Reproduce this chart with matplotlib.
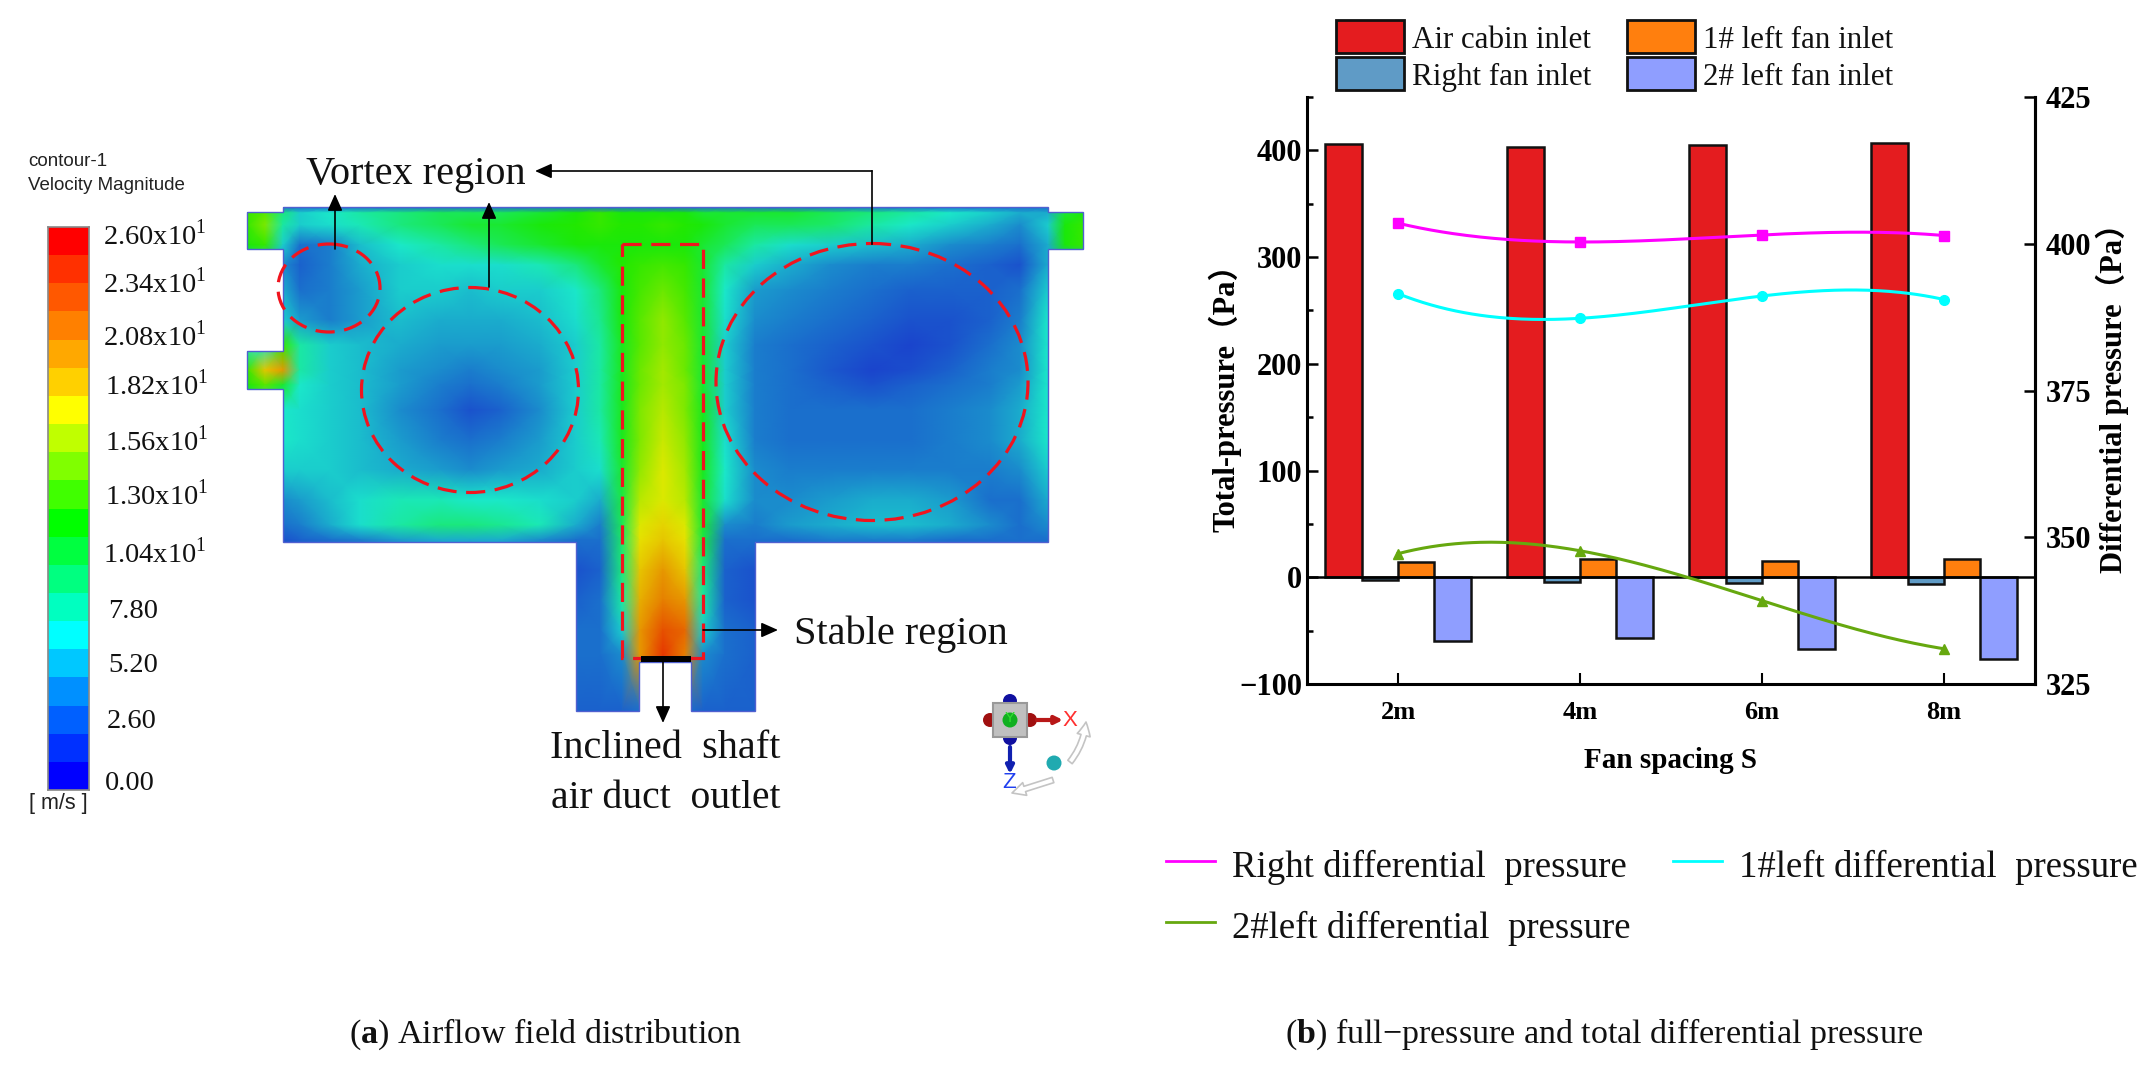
import numpy as np
import matplotlib
matplotlib.use("Agg")
import matplotlib.pyplot as plt
from matplotlib.colors import ListedColormap, LinearSegmentedColormap, BoundaryNorm
from matplotlib.patches import Ellipse, Rectangle, PathPatch, Circle
from matplotlib.path import Path

W, H = 2149, 1065

# ---- panel b data ----
spacing = ["2m", "4m", "6m", "8m"]
air_cabin = [406, 403, 405, 407]
right_fan = [-3, -4, -5, -6.5]
left1_fan = [14.5, 17, 15, 17]
left2_fan = [-60, -57, -67, -76.5]
right_dp = [403.5, 400.3, 401.5, 401.4]
left1_dp = [391.5, 387.3, 391.1, 390.5]
left2_dp = [347.2, 347.7, 339.2, 331.0]
bar_names = ["Air cabin inlet", "Right fan inlet", "1# left fan inlet", "2# left fan inlet"]
bar_colors = ["#e41c1f", "#5f9bc6", "#ff7f0e", "#8f9eff"]
line_names = ["Right differential  pressure", "1#left differential  pressure", "2#left differential  pressure"]
line_colors = ["#ff00ff", "#00ffff", "#66a80f"]

# ---- panel a data: velocity, on picture pixels ----
grid_x = [247, 265, 283, 300, 330, 360, 400, 440, 470, 500, 540, 576, 600, 622, 640,
          663, 685, 703, 725, 755, 790, 830, 872, 910, 950, 990, 1020, 1048, 1065, 1083]
grid_y = [207, 213, 225, 245, 265, 290, 320, 345, 370, 385, 410, 440, 470, 500, 525,
          540, 570, 600, 630, 655, 711]
speed = [
    [3, 3, 3, 3, 3, 3, 3, 3, 3, 3, 3, 3, 3, 3, 3, 3, 3, 3, 3, 3, 3, 3, 3, 3, 3, 3, 3, 3, 3, 3],
    [13, 14, 9, 6, 7, 8, 9, 10, 10, 10, 11, 12, 13, 12, 12, 12, 12, 11, 11, 11, 11, 10, 9, 8, 7, 6, 5, 5, 11, 12],
    [13, 15, 8, 6, 6.5, 7.5, 9, 10, 11, 11, 12, 12.5, 13, 12.5, 12.5, 13, 12.5, 12, 11, 10, 10, 9.5, 8, 7, 6, 5, 4, 6, 12, 13],
    [12, 13, 6, 3, 3.5, 5.5, 7, 8, 9, 10, 11, 12, 12, 12, 12, 12, 12, 11, 10, 8, 6.5, 6, 5.5, 5, 4, 3.5, 3, 5, 12, 13],
    [6, 6, 4, 2.5, 3.5, 5, 6, 6.5, 6.5, 6.5, 7.5, 9, 11, 12.5, 13, 13.5, 13, 11, 8, 6, 5, 4, 3.5, 3.5, 3, 2.5, 2, 5, 5, 5],
    [5, 5, 5, 3, 3.5, 4.5, 6, 6, 5.5, 6, 6, 7, 9, 12, 13.5, 14.5, 13.5, 11, 7, 4.5, 4, 3.5, 3, 2.5, 2.5, 2.5, 3, 6, 6, 6],
    [6, 6, 6, 4.5, 3.5, 4.5, 5.5, 5, 5, 5, 5.5, 6.5, 8.5, 12, 14, 15.5, 14, 11, 6.5, 4, 3.5, 3, 2.5, 2, 2, 2.5, 3.5, 7, 7, 7],
    [7, 7, 13, 8, 6, 5.5, 5, 4.5, 4.5, 4.5, 5, 6, 8, 11.5, 14, 15.5, 14.5, 11, 6, 3.5, 3, 2.5, 2, 1.5, 2, 3, 4, 7, 7, 7],
    [13, 19, 21, 8, 6, 5.5, 4.5, 4, 3.5, 4, 4.5, 6, 8, 11.5, 14.5, 16, 14.5, 11, 6, 3.5, 3, 2.2, 1.5, 1.8, 2.5, 3.5, 4, 7, 7, 7],
    [12, 14, 11, 7, 6, 5.5, 4.5, 3.5, 3, 3.5, 4.5, 6, 8, 11.5, 14.5, 16, 15, 11, 6, 3.5, 3, 2.5, 2, 2.5, 3, 3.5, 4.5, 7, 7, 7],
    [6, 6, 7, 6.5, 6, 5.5, 4, 3, 2, 2.5, 4, 6, 8, 11.5, 15, 16.5, 15, 11.5, 6, 3.5, 3, 3, 3, 3, 3.5, 4, 5, 7, 7, 7],
    [6, 6, 7, 6.5, 6, 5.5, 4.5, 3.5, 3, 3.5, 4.5, 6, 7.5, 11.5, 15, 17, 15.5, 11.5, 6.5, 3.5, 3, 3, 3, 3, 3.5, 4, 5, 7, 7, 7],
    [5, 5, 6, 6, 6, 5.5, 5, 4.5, 4, 4.5, 5, 6, 6.5, 11, 15.5, 17.5, 16, 11.5, 7, 4, 3.5, 3.5, 3.5, 3.5, 3.5, 3.5, 4, 6, 6, 6],
    [4, 4, 4, 4.5, 5.5, 6.5, 7.5, 7.5, 7, 7, 6.5, 6, 5, 10.5, 16.5, 17.5, 16.5, 11, 6.5, 4, 4, 4.5, 5, 5, 4.5, 3, 3, 5, 5, 5],
    [3, 3, 3, 3.5, 5, 6.5, 8, 9, 9, 8.5, 7.5, 5, 3.5, 10, 17.5, 18.5, 17.5, 11, 4, 3.5, 4.5, 5, 5.5, 5.5, 5, 4, 3, 4, 4, 4],
    [2, 2, 2, 2.5, 3, 3.5, 4.5, 5, 5, 5, 4, 3, 3, 9.5, 18, 19, 18, 10.5, 3, 3, 3, 3.5, 3.5, 3.5, 3, 3, 3, 3, 3, 3],
    [2, 2, 2, 2, 2, 2, 2, 2, 2, 2, 2, 2, 2.5, 9, 19, 21, 19, 9, 2.5, 2, 2, 2, 2, 2, 2, 2, 2, 2, 2, 2],
    [2, 2, 2, 2, 2, 2, 2, 2, 2, 2, 2, 2.5, 3, 8, 20, 22, 21, 8, 2.5, 2, 2, 2, 2, 2, 2, 2, 2, 2, 2, 2],
    [2, 2, 2, 2, 2, 2, 2, 2, 2, 2, 2, 3, 3, 6, 21, 24, 23, 6, 3, 2.5, 2, 2, 2, 2, 2, 2, 2, 2, 2, 2],
    [2, 2, 2, 2, 2, 2, 2, 2, 2, 2, 2, 3, 3, 4, 21, 25, 22, 4, 3, 2.5, 2, 2, 2, 2, 2, 2, 2, 2, 2, 2],
    [2.5, 2.5, 2.5, 2.5, 2.5, 2.5, 2.5, 2.5, 2.5, 2.5, 2.5, 2.5, 2.5, 2.5, 3, 3, 3, 2.5, 2.5, 2.5, 2.5, 2.5, 2.5, 2.5, 2.5, 2.5, 2.5, 2.5, 2.5, 2.5],
]
band_colors = ["#0000ff", "#0030ff", "#0060ff", "#0090ff", "#00c8ff", "#00ffff", "#00ffc0", "#00ff80",
               "#00ff40", "#00ff00", "#40ff00", "#80ff00", "#c0ff00", "#ffff00", "#ffd000", "#ffa800",
               "#ff8000", "#ff5800", "#ff3000", "#ff0000"]
bar_labels = [(235, 103, "2.60x10$^{1}$"), (283, 103, "2.34x10$^{1}$"), (336, 103, "2.08x10$^{1}$"),
              (385, 105, "1.82x10$^{1}$"), (441, 105, "1.56x10$^{1}$"), (495, 105, "1.30x10$^{1}$"),
              (553, 103, "1.04x10$^{1}$"), (612, 108, "7.80"), (665, 108, "5.20"),
              (722, 107, "2.60"), (784, 105, "0.00")]

plt.rcParams["font.family"] = ["Liberation Serif", "DejaVu Serif"]
plt.rcParams["mathtext.fontset"] = "custom"
plt.rcParams["mathtext.rm"] = "Liberation Serif"
plt.rcParams["mathtext.bf"] = "Liberation Serif:bold"

fig = plt.figure(figsize=(W / 100, H / 100), dpi=100)


def px_axes(left, top, right, bottom):
    return fig.add_axes([left / W, 1 - bottom / H, (right - left) / W, (bottom - top) / H])


# overlay in picture pixels, for the sketch of panel a
ov = fig.add_axes([0, 0, 1, 1], zorder=1)
ov.set_xlim(0, W)
ov.set_ylim(H, 0)
ov.axis("off")

# field, clipped to the duct outline
outline = [(283, 207), (1048, 207), (1048, 212), (1083, 212), (1083, 249), (1048, 249), (1048, 542),
           (755, 542), (755, 711), (691, 711), (691, 662), (639, 662), (639, 711), (576, 711), (576, 542),
           (283, 542), (283, 389), (247, 389), (247, 351), (283, 351), (283, 249), (247, 249), (247, 212),
           (283, 212), (283, 207)]
shaded = [tuple(0.80 * np.array(matplotlib.colors.to_rgb(c)) + np.array([0.10, 0.11, 0.0])) for c in band_colors]
field_cmap = LinearSegmentedColormap.from_list("field", shaded)
mesh = ov.pcolormesh(grid_x, grid_y, np.array(speed), shading="gouraud", cmap=field_cmap, vmin=0, vmax=26)
clip = PathPatch(Path(outline, closed=True), transform=ov.transData, fc="none", ec="#5060d0", lw=1, zorder=3)
ov.add_patch(clip)
mesh.set_clip_path(clip)

# dashed red marks
red = "#f0141e"
dash = (0, (6, 3))
for cx, cy, w, h in [(329, 288, 102, 88), (470, 390, 217, 205), (872, 382, 312, 277)]:
    ov.add_patch(Ellipse((cx, cy), w, h, fc="none", ec=red, lw=2.3, ls=dash, zorder=4))
ov.add_patch(Rectangle((622, 244), 81, 414, fc="none", ec=red, lw=2.3, ls=dash, zorder=4))
ov.add_patch(Rectangle((641, 656), 50, 6, fc="black", ec="none", zorder=5))

# arrows and notes
arrow = dict(arrowstyle="-|>,head_width=0.32,head_length=0.72", color="black", lw=1.2, shrinkA=0, shrinkB=0, mutation_scale=14)
ov.annotate("", xy=(335, 194), xytext=(335, 249), arrowprops=arrow, zorder=6)
ov.annotate("", xy=(489, 202), xytext=(489, 287), arrowprops=arrow, zorder=6)
ov.plot([872, 872], [244, 171], color="black", lw=1.2, zorder=6)
ov.annotate("", xy=(535, 171), xytext=(872, 171), arrowprops=arrow, zorder=6)
ov.annotate("", xy=(778, 630), xytext=(703, 630), arrowprops=arrow, zorder=6)
ov.annotate("", xy=(663, 723), xytext=(663, 662), arrowprops=arrow, zorder=6)
note = dict(fontsize=29, color="#111111", va="baseline", ha="left")
ov.text(306, 184, "Vortex region", **note)
ov.text(794, 644, "Stable region", **note)
ov.text(550, 758, "Inclined  shaft", **note)
ov.text(551, 808, "air duct  outlet", fontsize=28.5, color="#111111", va="baseline", ha="left")

# colour bar
cax = px_axes(48, 227, 89, 790)
edges = np.linspace(0, 26, 21)
cax.pcolormesh([0, 1], edges, np.array(edges[:-1]).reshape(-1, 1) + 0.65,
               cmap=ListedColormap(band_colors), norm=BoundaryNorm(edges, 20))
cax.set_xticks([])
cax.set_yticks([])
for s in cax.spines.values():
    s.set_color("#888888")
    s.set_linewidth(1.2)
for y, x, txt in bar_labels:
    ov.text(x, y, txt, fontsize=20.5, color="#111111", va="center", ha="left")
ov.text(28, 162, "contour-1", family="Liberation Sans", fontsize=13.5, color="#222222", va="center")
ov.text(28, 185, "Velocity Magnitude", family="Liberation Sans", fontsize=13.5, color="#222222", va="center")
ov.text(29, 803, "[ m/s ]", family="Liberation Sans", fontsize=15.5, color="#222222", va="center")

# orientation icon
for c, px, py in [("#1010a0", 1010, 701), ("#1010a0", 1010, 738), ("#a01010", 990, 720), ("#a01010", 1030, 720)]:
    ov.add_patch(Circle((px, py), 7, fc=c, ec="none", zorder=4))
ov.add_patch(Rectangle((993, 703), 34, 34, fc="#c0c0c0", ec="#999999", lw=1.5, zorder=5))
ov.add_patch(Circle((1010, 720), 7.5, fc="#10b020", ec="none", zorder=6))
ov.text(1010, 718, "Y", family="Liberation Sans", fontsize=11, color="#30e030", ha="center", va="center", zorder=7)
ov.annotate("", xy=(1063, 720), xytext=(1037, 720), arrowprops=dict(arrowstyle="-|>", color="#b81818", lw=3, mutation_scale=11, shrinkA=0, shrinkB=0), zorder=6)
ov.annotate("", xy=(1010, 774), xytext=(1010, 747), arrowprops=dict(arrowstyle="-|>", color="#1020b0", lw=3, mutation_scale=11, shrinkA=0, shrinkB=0), zorder=6)
ov.text(1070, 720, "X", family="Liberation Sans", fontsize=16, color="#ff3030", ha="center", va="center")
ov.text(1009, 782, "Z", family="Liberation Sans", fontsize=16, color="#2040f0", ha="center", va="center")
ov.add_patch(Circle((1054, 763), 7.5, fc="#20aab0", ec="none", zorder=6))
hollow = dict(arrowstyle="simple,tail_width=0.25,head_width=0.6,head_length=0.6", fc="white", ec="#c4c4c4", lw=1.2, mutation_scale=16, shrinkA=0, shrinkB=0)
ov.annotate("", xy=(1086, 722), xytext=(1070, 762), arrowprops=dict(connectionstyle="arc3,rad=0.15", **hollow))
ov.annotate("", xy=(1012, 793), xytext=(1053, 780), arrowprops=dict(**hollow))

# ---- panel b ----
ax = px_axes(1307, 97, 2035, 684)
ax.patch.set_alpha(0)
ax.set_zorder(2)
x = np.arange(len(spacing))
for off, vals, col, name in zip([-0.3, -0.1, 0.1, 0.3], [air_cabin, right_fan, left1_fan, left2_fan], bar_colors, bar_names):
    ax.bar(x + off, vals, 0.2, color=col, edgecolor="#111111", linewidth=1.8, label=name, zorder=2)
ax.axhline(0, color="black", lw=1.8, zorder=3)
ax.set_xlim(-0.5, 3.5)
ax.set_ylim(-100, 450)
ax.set_xticks(x)
ax.set_xticklabels(spacing, fontsize=19, fontweight="bold")
ax.set_yticks([-100, 0, 100, 200, 300, 400])
ax.set_yticks([-50, 50, 150, 250, 350, 450], minor=True)
ax.tick_params(axis="y", which="major", direction="in", length=8, width=1.8, labelsize=22)
ax.tick_params(axis="y", which="minor", direction="in", length=4, width=1.8)
ax.tick_params(axis="x", which="major", direction="in", length=8, width=1.5, pad=12)
for lab in ax.get_yticklabels():
    lab.set_fontweight("bold")
ax.spines["top"].set_visible(False)
for s in ["left", "bottom", "right"]:
    ax.spines[s].set_linewidth(2.2)
ax.set_xlabel("Fan spacing S", fontsize=21, fontweight="bold", labelpad=17)
ax.set_ylabel("Total-pressure（Pa）", fontsize=22, fontweight="bold", family=["Liberation Serif", "Noto Sans CJK SC"], labelpad=-2)

ax2 = ax.twinx()
ax2.set_ylim(325, 425)
ax2.set_yticks([325, 350, 375, 400, 425])
ax2.tick_params(axis="y", which="major", direction="in", length=8, width=1.8, labelsize=22, pad=8)
for lab in ax2.get_yticklabels():
    lab.set_fontweight("bold")
ax2.spines["top"].set_visible(False)
ax2.spines["right"].set_linewidth(2.2)
ax2.set_ylabel("Differential pressure（Pa）", fontsize=22, fontweight="bold", family=["Liberation Serif", "Noto Sans CJK SC"], labelpad=3)

xs = np.linspace(0, 3, 200)
for vals, col, mk, name in zip([right_dp, left1_dp, left2_dp], line_colors, ["s", "o", "^"], line_names):
    ax2.plot(xs, np.polyval(np.polyfit(x, vals, 3), xs), color=col, lw=2.2, zorder=5)
    ax2.plot(x, vals, ls="none", marker=mk, ms=7, color=col, zorder=6)

# legends, placed by hand
for (px_x, px_y), col, name in zip([(1336, 20), (1336, 57), (1627, 20), (1627, 57)], bar_colors, bar_names):
    ov.add_patch(Rectangle((px_x, px_y), 68, 33, fc=col, ec="#111111", lw=2))
    ov.text(px_x + 76, px_y + 28, name, fontsize=22.3, color="#111111", va="baseline")
for (lx, ly), col, name in zip([(1166, 861), (1673, 861), (1166, 922)], line_colors, line_names):
    ov.plot([lx, lx + 49], [ly, ly], color=col, lw=2)
    ov.text(lx + 66, ly + 16, name, fontsize=26.5, color="#111111", va="baseline")

# captions
cap = dict(fontsize=24.5, color="#111111", va="baseline", ha="center")
ov.text(546, 1043, r"($\mathbf{a}$) Airflow field distribution", **cap)
ov.text(1604, 1043, r"($\mathbf{b}$) full$-$pressure and total differential pressure", **cap)

fig.savefig("out.png", dpi=100)
